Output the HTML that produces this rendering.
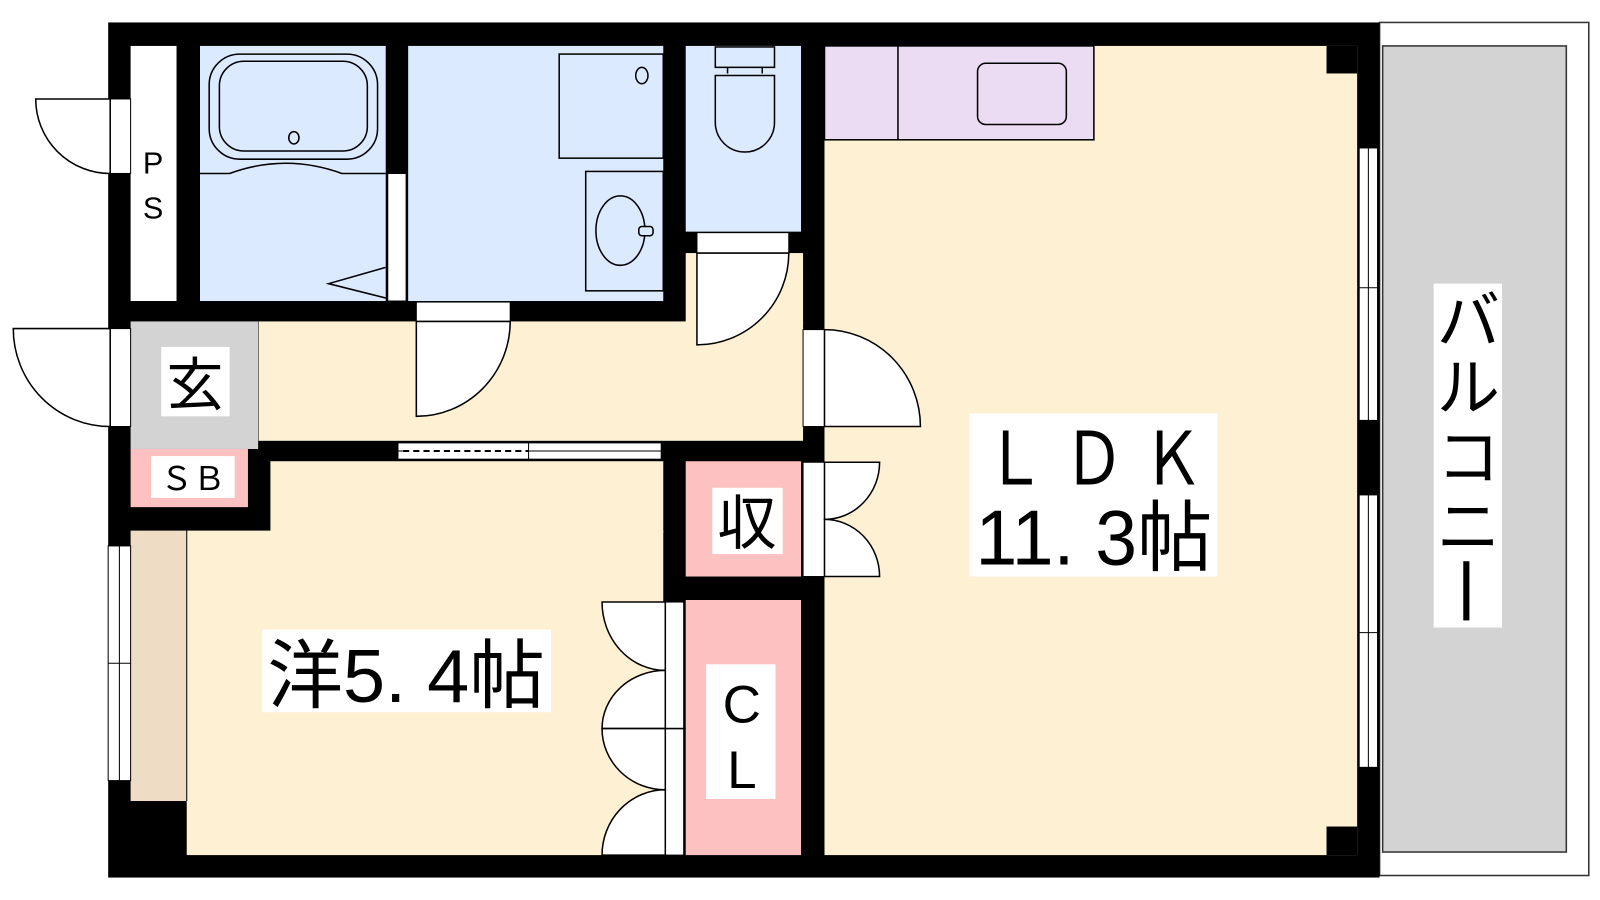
<!DOCTYPE html>
<html><head><meta charset="utf-8"><style>
html,body{margin:0;padding:0;background:#fff;width:1600px;height:900px;overflow:hidden}
svg{display:block}
text{font-family:"Liberation Sans","Noto Sans CJK JP",sans-serif;fill:#000}
</style></head><body>
<svg width="1600" height="900" viewBox="0 0 1568 882" preserveAspectRatio="none" xmlns="http://www.w3.org/2000/svg">
<!-- balcony -->
<rect x="1352" y="22" width="205" height="836" fill="#fff" stroke="#333" stroke-width="1.5"/>
<rect x="1355" y="45" width="180" height="790" fill="#d3d3d3" stroke="#333" stroke-width="1.5"/>
<!-- main black block -->
<rect x="106" y="22" width="1246" height="838" fill="#000"/>
<!-- PS -->
<rect x="128" y="45" width="45" height="250" fill="#fff"/>
<!-- bath -->
<rect x="196" y="45" width="182" height="250" fill="#dbeafe"/>
<rect x="380" y="170" width="18" height="125" fill="#fff" stroke="#000" stroke-width="1"/>
<rect x="205" y="53" width="165" height="103" rx="30" fill="none" stroke="#000" stroke-width="1.5"/>
<rect x="215" y="60" width="145" height="88" rx="24" fill="none" stroke="#000" stroke-width="1.5"/>
<ellipse cx="288" cy="135" rx="5" ry="6" fill="none" stroke="#000" stroke-width="1.5"/>
<path d="M196 170 H225 Q280 150 335 170 H378" fill="none" stroke="#000" stroke-width="1.5"/>
<path d="M378 262 L322 278 L378 292" fill="none" stroke="#000" stroke-width="1.5"/>
<!-- washroom -->
<rect x="400" y="45" width="250" height="250" fill="#dbeafe"/>
<rect x="548" y="53" width="102" height="102" fill="none" stroke="#000" stroke-width="1.5"/>
<ellipse cx="629" cy="74" rx="6" ry="8" fill="none" stroke="#000" stroke-width="1.5"/>
<rect x="574" y="168" width="76" height="117" fill="none" stroke="#000" stroke-width="1.5"/>
<ellipse cx="608" cy="226" rx="24" ry="34" fill="none" stroke="#000" stroke-width="1.5"/>
<rect x="626" y="222" width="14" height="9" rx="3" fill="#dbeafe" stroke="#000" stroke-width="1.5"/>
<!-- toilet -->
<rect x="672" y="45" width="113" height="182" fill="#dbeafe"/>
<rect x="701" y="46" width="58" height="20" fill="none" stroke="#000" stroke-width="1.5"/>
<path d="M713 66 V72 M747 66 V72 M701 74 H759 V120 A29 29 0 0 1 701 120 Z" fill="none" stroke="#000" stroke-width="1.5"/>
<!-- hallway -->
<rect x="253" y="315" width="534" height="117" fill="#fdf0d3"/>
<rect x="672" y="248" width="115" height="70" fill="#fdf0d3"/>
<line x1="253" y1="315" x2="253" y2="432" stroke="#000" stroke-width="1"/>
<!-- toilet door -->
<rect x="683" y="228" width="90" height="20" fill="#fff" stroke="#000" stroke-width="1"/>
<path d="M683 248 V338 A90 90 0 0 0 773 248 Z" fill="#fff" stroke="#000" stroke-width="1.5"/>
<!-- washroom door -->
<rect x="408" y="296" width="92" height="19" fill="#fff" stroke="#000" stroke-width="1"/>
<path d="M408 315 V408 A92 93 0 0 0 500 315 Z" fill="#fff" stroke="#000" stroke-width="1.5"/>
<!-- genkan -->
<rect x="128" y="315" width="125" height="125" fill="#d3d3d3"/>
<rect x="128" y="440" width="115" height="57" fill="#fec1c1"/>
<!-- sliding door -->
<rect x="390" y="434" width="258" height="16" fill="#fff" stroke="#000" stroke-width="1"/>
<line x1="390" y1="442" x2="648" y2="442" stroke="#000" stroke-width="1"/>
<line x1="395" y1="442" x2="518" y2="442" stroke="#fff" stroke-width="2"/>
<line x1="395" y1="442" x2="518" y2="442" stroke="#000" stroke-width="2" stroke-dasharray="6,4"/>
<line x1="518" y1="434" x2="518" y2="450" stroke="#000" stroke-width="1"/>
<!-- bedroom -->
<rect x="265" y="452" width="385" height="70" fill="#fdf0d3"/>
<rect x="183" y="520" width="467" height="318" fill="#fdf0d3"/>
<rect x="128" y="520" width="55" height="265" fill="#eeddc4"/>
<line x1="183" y1="520" x2="183" y2="785" stroke="#000" stroke-width="1"/>
<rect x="106" y="535" width="22" height="230" fill="#fff" stroke="#000" stroke-width="1"/>
<line x1="117" y1="535" x2="117" y2="765" stroke="#000" stroke-width="1"/>
<line x1="106" y1="650" x2="128" y2="650" stroke="#000" stroke-width="1"/>
<!-- storage -->
<rect x="672" y="452" width="113" height="113" fill="#fec1c1"/>
<rect x="672" y="588" width="113" height="250" fill="#fec1c1"/>
<rect x="652" y="590" width="18" height="248" fill="#fff" stroke="#000" stroke-width="1"/>
<line x1="590" y1="714" x2="672" y2="714" stroke="#000" stroke-width="1.5"/>
<path d="M590 590 H652 V657 A62 67 0 0 1 590 590 Z" fill="#fff" stroke="#000" stroke-width="1.5"/>
<path d="M652 657 A62 57 0 0 0 590 714 H652 Z" fill="#fff" stroke="#000" stroke-width="1.5"/>
<path d="M590 714 H652 V774 A62 60 0 0 1 590 714 Z" fill="#fff" stroke="#000" stroke-width="1.5"/>
<path d="M652 774 A62 64 0 0 0 590 838 H652 Z" fill="#fff" stroke="#000" stroke-width="1.5"/>
<!-- LDK -->
<rect x="808" y="45" width="522" height="793" fill="#fdf0d3"/>
<rect x="1300" y="45" width="30" height="27" fill="#000"/>
<rect x="1300" y="810" width="30" height="28" fill="#000"/>
<rect x="808" y="45" width="264" height="92" fill="#ecdcf3" stroke="#000" stroke-width="1.5"/>
<line x1="880" y1="45" x2="880" y2="137" stroke="#000" stroke-width="1.5"/>
<rect x="958" y="62" width="87" height="60" rx="8" fill="none" stroke="#000" stroke-width="1.5"/>
<!-- right windows -->
<rect x="1332" y="145" width="18" height="267" fill="#fff" stroke="#000" stroke-width="1"/>
<line x1="1341" y1="145" x2="1341" y2="412" stroke="#000" stroke-width="1"/>
<line x1="1332" y1="282" x2="1350" y2="282" stroke="#000" stroke-width="1"/>
<rect x="1332" y="485" width="18" height="267" fill="#fff" stroke="#000" stroke-width="1"/>
<line x1="1341" y1="485" x2="1341" y2="752" stroke="#000" stroke-width="1"/>
<line x1="1332" y1="620" x2="1350" y2="620" stroke="#000" stroke-width="1"/>
<!-- LDK doors -->
<rect x="787" y="323" width="21" height="95" fill="#fff" stroke="#000" stroke-width="1"/>
<path d="M808 323 A94 95 0 0 1 902 418 H808 Z" fill="#fff" stroke="#000" stroke-width="1.5"/>
<rect x="787" y="453" width="21" height="112" fill="#fff" stroke="#000" stroke-width="1"/>
<path d="M808 453 H862 A54 56 0 0 1 808 509 Z" fill="#fff" stroke="#000" stroke-width="1.5"/>
<path d="M808 509 A54 56 0 0 1 862 565 H808 Z" fill="#fff" stroke="#000" stroke-width="1.5"/>
<!-- exterior doors -->
<rect x="108" y="97" width="20" height="73" fill="#fff" stroke="#000" stroke-width="1"/>
<path d="M108 97 H35 A73 73 0 0 0 108 170 Z" fill="#fff" stroke="#000" stroke-width="1.5"/>
<rect x="108" y="322" width="20" height="96" fill="#fff" stroke="#000" stroke-width="1"/>
<path d="M108 322 H13 A95 96 0 0 0 108 418 Z" fill="#fff" stroke="#000" stroke-width="1.5"/>
<!-- labels -->
<text x="150" y="170" font-size="30" text-anchor="middle">P</text>
<text x="150" y="214" font-size="30" text-anchor="middle">S</text>
<rect x="158" y="340" width="67" height="68" fill="#fff"/>
<text x="191" y="397" font-size="56" text-anchor="middle">玄</text>
<rect x="148" y="447" width="82" height="41" fill="#fff"/>
<text x="189" y="480" font-size="32" text-anchor="middle">ＳＢ</text>
<rect x="698" y="478" width="69" height="65" fill="#fff"/>
<text x="732" y="533" font-size="58" text-anchor="middle">収</text>
<rect x="692" y="651" width="68" height="132" fill="#fff"/>
<text x="727" y="708" font-size="52" text-anchor="middle">C</text>
<text x="727" y="772" font-size="52" text-anchor="middle">L</text>
<rect x="257" y="617" width="283" height="81" fill="#fff"/>
<text x="398" y="688" font-size="74" text-anchor="middle" textLength="272" lengthAdjust="spacingAndGlyphs">洋5. 4帖</text>
<rect x="950" y="405" width="243" height="160" fill="#fff"/>
<text x="1072" y="475" font-size="72" text-anchor="middle" textLength="215" lengthAdjust="spacingAndGlyphs">Ｌ Ｄ Ｋ</text>
<text x="1072" y="553" font-size="76" text-anchor="middle" textLength="232" lengthAdjust="spacingAndGlyphs">11. 3帖</text>
<rect x="1405" y="278" width="67" height="337" fill="#fff"/>
<text font-size="62" text-anchor="middle"><tspan x="1439" y="336">バ</tspan><tspan x="1439" y="402">ル</tspan><tspan x="1439" y="470">コ</tspan><tspan x="1439" y="538">ニ</tspan></text>
<rect x="1434" y="550" width="6" height="58" fill="#000"/>
</svg>
</body></html>
